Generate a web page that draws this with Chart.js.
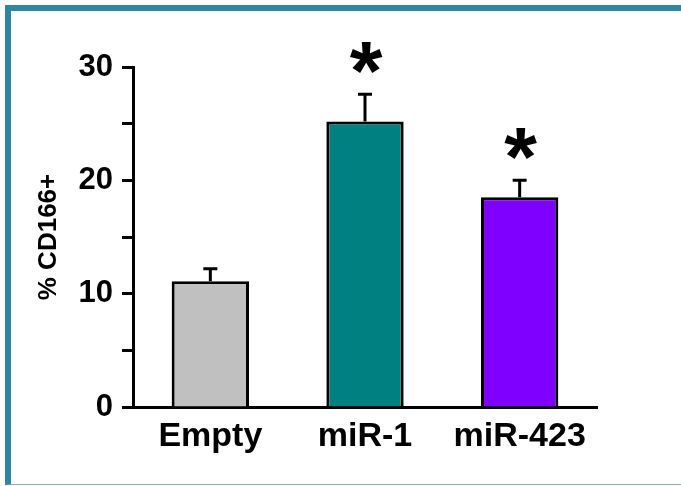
<!DOCTYPE html>
<html>
<head>
<meta charset="utf-8">
<script src="https://cdn.jsdelivr.net/npm/chart.js@4.4.1/dist/chart.umd.min.js"></script>
<style>
    html, body { margin: 0; padding: 0; background: #fff; overflow: hidden; }
    #frame {
        position: absolute; left: 5px; top: 5px; width: 800px; height: 473px;
        border-left: 6px solid #2E86A0; border-top: 6px solid #2E86A0;
        border-bottom: 1px solid #7FAFBC;
    }
    #wrap { position: absolute; left: 0; top: 0; width: 681px; height: 486px; }
</style>
</head>
<body>
<div id="frame"></div>
<div id="wrap"><canvas id="myChart" width="681" height="486"></canvas></div>
<script>
// data
const categories = ['Empty', 'miR-1', 'miR-423']
const means = [11.1, 25.2, 18.5]
const errors = [1.1, 2.4, 1.5]
const significant = [false, true, true]
const yTicks = [0, 10, 20, 30]

const barColors = ['#C0C0C0', '#008080', '#7F00FF']

// error bars + stars, drawn through the scales
const errorBars = {
    id: 'errorBars',
    afterDatasetsDraw(chart) {
        const ctx = chart.ctx
        const y = chart.scales.y
        const meta = chart.getDatasetMeta(0)
        ctx.save()
        ctx.strokeStyle = '#000'
        ctx.lineWidth = 3
        meta.data.forEach((bar, i) => {
            const top = y.getPixelForValue(means[i] + errors[i])
            const base = y.getPixelForValue(means[i])
            ctx.beginPath()
            ctx.moveTo(bar.x, base)
            ctx.lineTo(bar.x, top)
            ctx.moveTo(bar.x - 7, top)
            ctx.lineTo(bar.x + 7, top)
            ctx.stroke()
            if (significant[i]) {
                ctx.fillStyle = '#000'
                ctx.font = 'bold 84px "Liberation Sans", Arial, sans-serif'
                ctx.textAlign = 'center'
                ctx.textBaseline = 'alphabetic'
                const m = ctx.measureText('*')
                const cy = top - 36
                ctx.fillText('*', bar.x + 1, cy + (m.actualBoundingBoxAscent - m.actualBoundingBoxDescent) / 2)
            }
        })
        ctx.restore()
    }
}

const data = {
    labels: categories,
    datasets: [{
        data: means,
        backgroundColor: barColors,
        borderColor: '#000',
        borderWidth: 3,
        barPercentage: 0.5,
        categoryPercentage: 1
    }]
}

const config = {
    type: 'bar',
    data,
    options: {
        responsive: false,
        animation: false,
        layout: { padding: { left: 0, right: 84, top: 67, bottom: 29 } },
        plugins: { legend: { display: false }, tooltip: { enabled: false } },
        scales: {
            x: {
                grid: { display: false },
                border: { display: true, color: '#000', width: 3 },
                ticks: {
                    color: '#000',
                    padding: 1,
                    font: { family: '"Liberation Sans", Arial, sans-serif', size: 34, weight: 'bold' }
                },
                afterFit: scale => { scale.height = 50 }
            },
            y: {
                min: 0,
                max: 30,
                grid: { drawOnChartArea: false, drawTicks: true, tickLength: 11, tickWidth: 3, tickColor: '#000' },
                border: { display: true, color: '#000', width: 3 },
                ticks: {
                    stepSize: 5,
                    color: '#000',
                    padding: 9,
                    font: { family: '"Liberation Sans", Arial, sans-serif', size: 31, weight: 'bold' },
                    callback: v => yTicks.includes(v) ? String(v) : ''
                },
                title: {
                    display: true,
                    text: '% CD166+',
                    color: '#000',
                    padding: { top: 33, bottom: 0 },
                    font: { family: '"Liberation Sans", Arial, sans-serif', size: 26, weight: 'bold' }
                },
                afterFit: scale => { scale.width = 133 }
            }
        }
    },
    plugins: [errorBars]
}

const myChart = new Chart(document.getElementById('myChart'), config)
</script>
</body>
</html>
